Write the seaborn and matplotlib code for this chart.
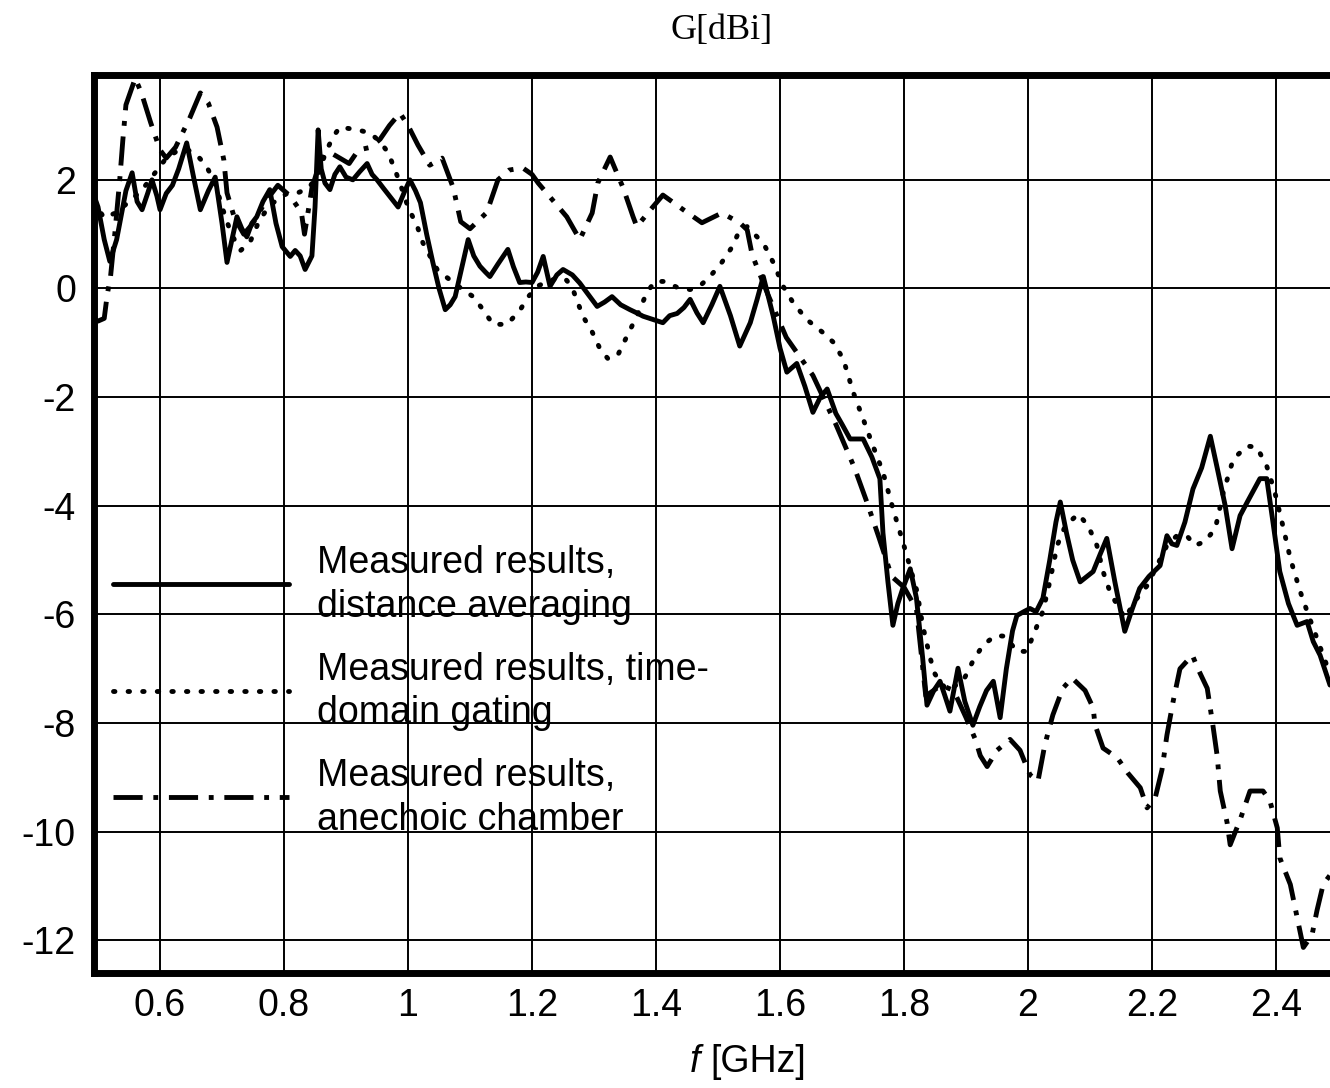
import matplotlib
matplotlib.use("Agg")
import matplotlib.pyplot as plt
import seaborn as sns
import pandas as pd

# ---------------- data ----------------
f_dist = [0.492, 0.50, 0.51, 0.519, 0.53, 0.545, 0.555, 0.563, 0.571, 0.58, 0.587, 0.595, 0.60, 0.61, 0.62,
          0.63, 0.643, 0.655, 0.665, 0.678, 0.689, 0.70, 0.708, 0.716, 0.724, 0.732, 0.74, 0.748, 0.756, 0.766,
          0.777, 0.787, 0.797, 0.81, 0.818, 0.826, 0.834, 0.845, 0.85, 0.855, 0.86, 0.866, 0.874, 0.882, 0.89,
          0.90, 0.911, 0.922, 0.934, 0.942, 0.95, 0.96, 0.971, 0.984, 0.995, 1.003, 1.012, 1.02, 1.03, 1.04,
          1.05, 1.06, 1.068, 1.076, 1.087, 1.097, 1.106, 1.116, 1.125, 1.132, 1.145, 1.161, 1.17, 1.18, 1.19,
          1.20, 1.209, 1.218, 1.229, 1.24, 1.25, 1.265, 1.277, 1.29, 1.305, 1.317, 1.329, 1.343, 1.358, 1.369,
          1.379, 1.395, 1.411, 1.422, 1.434, 1.445, 1.455, 1.466, 1.476, 1.49, 1.503, 1.52, 1.535, 1.552, 1.563,
          1.573, 1.589, 1.60, 1.611, 1.627, 1.64, 1.653, 1.665, 1.676, 1.69, 1.70, 1.713, 1.734, 1.748, 1.761,
          1.766, 1.774, 1.782, 1.79, 1.798, 1.81, 1.82, 1.83, 1.837, 1.848, 1.858, 1.866, 1.874, 1.887, 1.898,
          1.911, 1.922, 1.933, 1.944, 1.955, 1.965, 1.975, 1.982, 1.993, 2.003, 2.013, 2.024, 2.035, 2.045, 2.052,
          2.062, 2.072, 2.084, 2.095, 2.105, 2.116, 2.127, 2.14, 2.156, 2.168, 2.18, 2.195, 2.213, 2.224, 2.232,
          2.24, 2.253, 2.266, 2.28, 2.294, 2.305, 2.318, 2.329, 2.342, 2.355, 2.374, 2.385, 2.395, 2.406, 2.42,
          2.434, 2.45, 2.46, 2.471, 2.487]
g_dist = [1.76, 1.5, 0.9, 0.5, 0.9, 1.8, 2.13, 1.6, 1.45, 1.75, 2.0, 1.7, 1.45, 1.75, 1.9,
          2.2, 2.68, 2.0, 1.45, 1.8, 2.05, 1.2, 0.48, 0.9, 1.32, 1.1, 0.95, 1.2, 1.32, 1.6,
          1.82, 1.2, 0.77, 0.59, 0.7, 0.6, 0.35, 0.6, 1.5, 2.92, 2.2, 1.94, 1.82, 2.1, 2.24,
          2.05, 2.0, 2.15, 2.3, 2.1, 2.0, 1.85, 1.69, 1.5, 1.8, 2.0, 1.8, 1.58, 1.0, 0.48,
          0.0, -0.39, -0.3, -0.15, 0.4, 0.9, 0.6, 0.41, 0.3, 0.22, 0.45, 0.72, 0.4, 0.11, 0.12,
          0.11, 0.3, 0.59, 0.04, 0.25, 0.35, 0.25, 0.1, -0.1, -0.33, -0.25, -0.15, -0.3, -0.39, -0.45,
          -0.51, -0.57, -0.63, -0.5, -0.46, -0.35, -0.2, -0.45, -0.63, -0.3, 0.04, -0.5, -1.06, -0.63, -0.2,
          0.22, -0.51, -1.1, -1.54, -1.38, -1.8, -2.28, -2.0, -1.85, -2.3, -2.5, -2.77, -2.77, -3.1, -3.5,
          -4.5, -5.4, -6.2, -5.8, -5.52, -5.16, -5.7, -6.8, -7.67, -7.4, -7.23, -7.5, -7.78, -6.99, -7.6,
          -8.04, -7.7, -7.4, -7.23, -7.9, -7.0, -6.3, -6.02, -5.95, -5.89, -5.95, -5.7, -5.0, -4.3, -3.93,
          -4.5, -5.0, -5.4, -5.3, -5.21, -4.9, -4.6, -5.4, -6.31, -5.9, -5.52, -5.3, -5.1, -4.55, -4.7,
          -4.73, -4.3, -3.69, -3.3, -2.72, -3.3, -4.0, -4.79, -4.18, -3.9, -3.5, -3.5, -4.3, -5.21, -5.8,
          -6.2, -6.13, -6.5, -6.75, -7.3]

f_gate = [0.492, 0.51, 0.53, 0.55, 0.57, 0.59, 0.61, 0.63, 0.645, 0.66, 0.675, 0.69, 0.70, 0.715, 0.73,
          0.745, 0.76, 0.775, 0.79, 0.805, 0.82, 0.84, 0.855, 0.867, 0.879, 0.89, 0.919, 0.939, 0.955, 0.968,
          0.979, 0.987, 1.0, 1.015, 1.024, 1.047, 1.063, 1.081, 1.105, 1.121, 1.137, 1.16, 1.181, 1.194, 1.21,
          1.23, 1.245, 1.256, 1.266, 1.282, 1.297, 1.31, 1.323, 1.339, 1.353, 1.369, 1.385, 1.398, 1.415, 1.434,
          1.455, 1.47, 1.487, 1.506, 1.523, 1.535, 1.547, 1.563, 1.576, 1.589, 1.605, 1.621, 1.643, 1.669, 1.686,
          1.702, 1.718, 1.734, 1.75, 1.766, 1.782, 1.798, 1.821, 1.83, 1.842, 1.85, 1.869, 1.895, 1.911, 1.927,
          1.947, 1.963, 1.982, 1.998, 2.011, 2.024, 2.035, 2.047, 2.06, 2.081, 2.097, 2.111, 2.121, 2.132, 2.144,
          2.156, 2.176, 2.192, 2.208, 2.224, 2.24, 2.256, 2.269, 2.285, 2.302, 2.315, 2.331, 2.353, 2.369, 2.385,
          2.398, 2.411, 2.423, 2.439, 2.45, 2.466, 2.487]
g_gate = [1.6, 1.3, 1.4, 1.6, 1.8, 2.1, 2.4, 2.55, 2.55, 2.45, 2.25, 1.9, 1.5, 1.0, 0.7,
          0.85, 1.25, 1.5, 1.65, 1.75, 1.75, 1.85, 2.1, 2.5, 2.79, 2.97, 2.92, 2.86, 2.7, 2.5,
          2.18, 1.94, 1.5, 1.14, 0.84, 0.35, 0.2, 0.04, -0.15, -0.39, -0.66, -0.66, -0.39, -0.15, 0.05,
          0.15, 0.2, 0.15, -0.02, -0.51, -0.8, -1.12, -1.3, -1.21, -0.88, -0.51, -0.08, 0.13, 0.13, 0.02,
          -0.02, 0.04, 0.22, 0.48, 0.77, 1.08, 1.14, 0.95, 0.77, 0.48, 0.04, -0.26, -0.57, -0.81, -0.99,
          -1.3, -1.91, -2.4, -2.9, -3.38, -4.05, -4.66, -5.58, -6.2, -6.8, -7.1, -7.4, -7.23, -6.86, -6.57,
          -6.39, -6.4, -6.68, -6.68, -6.31, -5.94, -5.4, -4.73, -4.37, -4.15, -4.37, -4.73, -5.21, -5.58, -5.83,
          -6.07, -5.7, -5.47, -5.1, -4.73, -4.55, -4.55, -4.73, -4.66, -4.42, -3.75, -3.14, -2.9, -2.92, -3.27,
          -3.75, -4.37, -4.97, -5.58, -5.94, -6.44, -7.1]

f_anech = [0.492, 0.50, 0.51, 0.515, 0.52, 0.527, 0.535, 0.54, 0.545, 0.56, 0.57, 0.585, 0.60, 0.61, 0.625,
           0.648, 0.665, 0.678, 0.692, 0.703, 0.708, 0.72, 0.735, 0.75, 0.77, 0.79, 0.81, 0.828, 0.833, 0.845,
           0.86, 0.875, 0.89, 0.905, 0.92, 0.94, 0.955, 0.97, 0.987, 1.0, 1.016, 1.035, 1.055, 1.073, 1.085,
           1.10, 1.127, 1.145, 1.163, 1.185, 1.20, 1.21, 1.23, 1.256, 1.277, 1.297, 1.306, 1.326, 1.347, 1.363,
           1.369, 1.394, 1.411, 1.444, 1.474, 1.506, 1.535, 1.547, 1.555, 1.58, 1.61, 1.653, 1.69, 1.72, 1.74,
           1.76, 1.78, 1.80, 1.82, 1.835, 1.86, 1.88, 1.90, 1.915, 1.923, 1.934, 1.95, 1.971, 1.987, 2.003,
           2.016, 2.027, 2.04, 2.056, 2.071, 2.092, 2.105, 2.108, 2.121, 2.144, 2.161, 2.181, 2.192, 2.205, 2.216,
           2.224, 2.234, 2.245, 2.265, 2.274, 2.289, 2.298, 2.305, 2.31, 2.321, 2.326, 2.342, 2.358, 2.379, 2.39,
           2.402, 2.406, 2.423, 2.434, 2.444, 2.458, 2.466, 2.476, 2.487]
g_anech = [-0.55, -0.6, -0.55, -0.1, 0.2, 1.0, 2.0, 2.73, 3.38, 3.87, 3.6, 3.05, 2.55, 2.4, 2.6,
           3.14, 3.6, 3.41, 2.97, 2.36, 1.76, 1.3, 1.0, 1.2, 1.6, 1.9, 1.7, 1.4, 1.0, 1.85,
           2.4, 2.5, 2.4, 2.3, 2.55, 2.6, 2.75, 3.0, 3.23, 3.0, 2.64, 2.27, 2.4, 1.85, 1.23,
           1.1, 1.4, 2.0, 2.18, 2.22, 2.1, 1.94, 1.67, 1.32, 0.9, 1.39, 1.94, 2.42, 1.85, 1.32,
           1.14, 1.49, 1.72, 1.45, 1.21, 1.39, 1.21, 1.08, 0.62, -0.1, -0.9, -1.6, -2.5, -3.3, -3.93,
           -4.6, -5.3, -5.5, -5.9, -7.5, -7.3, -7.4, -7.9, -8.3, -8.6, -8.8, -8.5, -8.3, -8.5, -8.95,
           -9.07, -8.4, -7.85, -7.36, -7.17, -7.4, -7.72, -8.03, -8.46, -8.64, -8.92, -9.19, -9.56, -9.38, -8.86,
           -8.22, -7.6, -7.0, -6.75, -7.0, -7.36, -8.03, -8.6, -9.25, -9.83, -10.24, -9.78, -9.25, -9.25, -9.43,
           -9.93, -10.48, -10.97, -11.58, -12.13, -11.9, -11.45, -10.97, -10.8]

series_labels = ["Measured results,\ndistance averaging",
                 "Measured results, time-\ndomain gating",
                 "Measured results,\nanechoic chamber"]
x_ticks = [0.6, 0.8, 1.0, 1.2, 1.4, 1.6, 1.8, 2.0, 2.2, 2.4]
x_tick_labels = ["0.6", "0.8", "1", "1.2", "1.4", "1.6", "1.8", "2", "2.2", "2.4"]
y_ticks = [2, 0, -2, -4, -6, -8, -10, -12]
y_tick_labels = ["2", "0", "-2", "-4", "-6", "-8", "-10", "-12"]

# ---------------- style ----------------
sns.set_theme(style="white")
plt.rcParams["font.family"] = ["Liberation Sans", "DejaVu Sans"]
plt.rcParams["text.color"] = "black"

W, H = 1330, 1088
FS = 27
fig = plt.figure(figsize=(W / 100, H / 100), dpi=100)
ax_l, ax_r, ax_t, ax_b = 94, 1330, 75, 973
ax = fig.add_axes([ax_l / W, 1 - ax_b / H, (ax_r - ax_l) / W, (ax_b - ax_t) / H])

lw = 3.5
df1 = pd.DataFrame({"f": f_dist, "G": g_dist})
df2 = pd.DataFrame({"f": f_gate, "G": g_gate})
df3 = pd.DataFrame({"f": f_anech, "G": g_anech})

sns.lineplot(data=df1, x="f", y="G", ax=ax, color="black", lw=lw, estimator=None,
             label=series_labels[0], solid_joinstyle="round")
sns.lineplot(data=df2, x="f", y="G", ax=ax, color="black", lw=lw, estimator=None,
             label=series_labels[1], linestyle=(0, (0.3, 2.7)), dash_capstyle="round")
sns.lineplot(data=df3, x="f", y="G", ax=ax, color="black", lw=lw, estimator=None,
             label=series_labels[2], linestyle=(0, (6, 2.2, 1, 2.2)))

ax.set_xlim(0.4935, 2.487)
ax.set_ylim(-12.6, 3.93)
ax.set_xticks(x_ticks)
ax.set_xticklabels(x_tick_labels)
ax.set_yticks(y_ticks)
ax.set_yticklabels(y_tick_labels)
ax.tick_params(axis="both", length=0, labelsize=FS, colors="black")
ax.tick_params(axis="x", pad=11)
ax.tick_params(axis="y", pad=13)
ax.grid(True, color="black", lw=1.4)
ax.set_axisbelow(True)
for side in ["left", "top", "bottom"]:
    ax.spines[side].set_visible(True)
    ax.spines[side].set_color("black")
    ax.spines[side].set_linewidth(5)
ax.spines["right"].set_visible(False)
ax.set_xlabel("")
ax.set_ylabel("")

leg = ax.legend(loc="upper left", bbox_to_anchor=(113 / W, 1 - 545 / H),
                bbox_transform=fig.transFigure, frameon=False, fontsize=FS,
                handlelength=4.7, handletextpad=0.75, labelspacing=0.72,
                borderpad=0, borderaxespad=0, handleheight=1.0)
for line in leg.get_lines():
    line.set_linewidth(lw)
for t in leg.get_texts():
    t.set_color("black")
    t.set_linespacing(1.27)

fig.text(722 / W, 1 - 30 / H, "G[dBi]", ha="center", va="center", color="black",
         family=["Liberation Serif", "DejaVu Serif"], fontsize=26)
fig.text(700 / W, 1 - 1062 / H, "f", ha="right", va="center", style="italic", fontsize=FS, color="black")
fig.text(710 / W, 1 - 1062 / H, "[GHz]", ha="left", va="center", fontsize=FS, color="black")

fig.savefig("out.png", dpi=100)
